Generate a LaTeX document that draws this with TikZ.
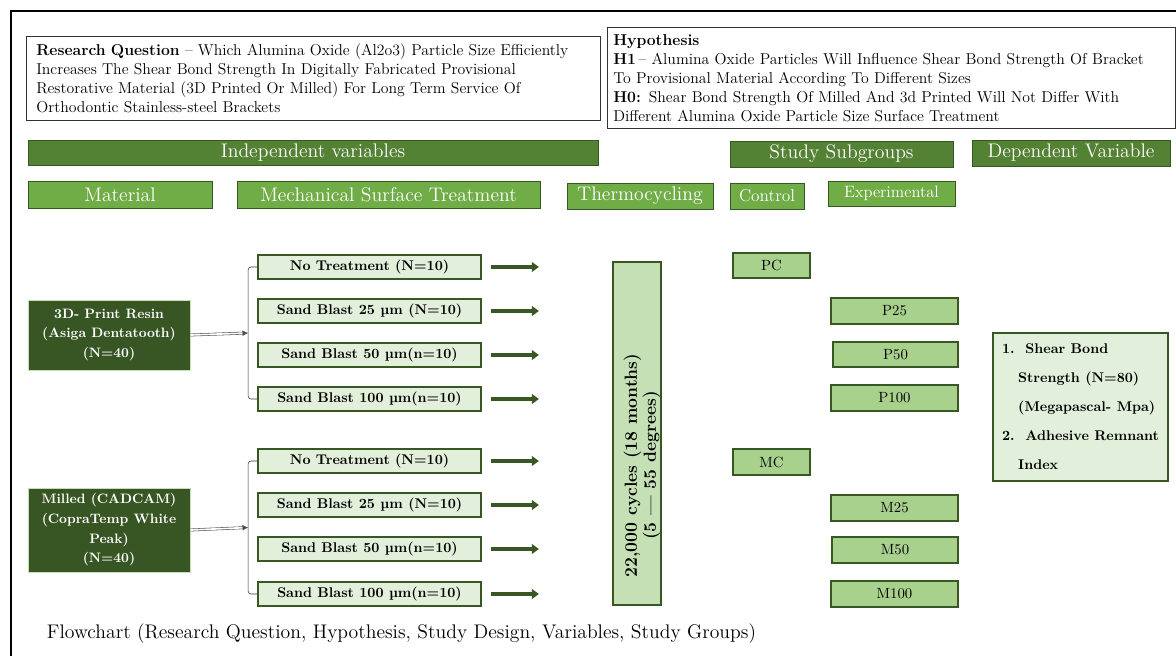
\documentclass[tikz,border=0pt]{standalone}
\usetikzlibrary{arrows.meta,calc}

\definecolor{darkbar}{HTML}{548235}
\definecolor{darkbox}{HTML}{375623}
\definecolor{midgreen}{HTML}{70AD47}
\definecolor{palegreen}{HTML}{E2EFDA}
\definecolor{lightgreen}{HTML}{C5E0B4}
\definecolor{subgreen}{HTML}{A9D18E}
\definecolor{edgegreen}{HTML}{385723}

\begin{document}
\begin{tikzpicture}[x=0.025cm,y=-0.025cm,
  sz/.style 2 args={minimum width=#1*0.025cm,minimum height=#2*0.025cm,inner sep=0pt},
  txtbox/.style={draw=black!80,thin,align=left,anchor=north west,font=\fontsize{11.2}{13.5}\selectfont},
  bar/.style={fill=darkbar,draw=edgegreen,text=white,font=\fontsize{14}{16}\selectfont},
  subbar/.style={fill=midgreen,draw=edgegreen,text=white,font=\fontsize{14}{16}\selectfont},
  matbox/.style={fill=darkbox,draw=lightgreen,text=white,align=center,font=\bfseries\fontsize{9.7}{14}\selectfont},
  treat/.style={fill=palegreen,draw=edgegreen,line width=1.2pt,font=\bfseries\fontsize{10}{12}\selectfont},
  grp/.style={fill=subgreen,draw=edgegreen,line width=1.2pt,font=\fontsize{10.5}{12}\selectfont},
  flow/.style={edgegreen,line width=2.2pt,-{Triangle[length=5pt,width=7pt]}},
  split/.style={black!80,thin,rounded corners=2pt}]

\useasboundingbox (0,0) rectangle (1176,656);

% frame
\draw[line width=1.8pt] (11,656) -- (11,11) -- (1176,11);

% research question and hypothesis
\node[txtbox,text width=13.85cm,inner xsep=0.25cm,minimum height=2.1cm] (rq) at (26,36)
  {\textbf{Research Question} -- Which Alumina Oxide (Al2o3) Particle Size Efficiently\\
   Increases The Shear Bond Strength In Digitally Fabricated Provisional\\
   Restorative Material (3D Printed Or Milled) For Long Term Service Of\\
   Orthodontic Stainless-steel Brackets};
\node[txtbox,text width=13.9cm,inner xsep=0.15cm,minimum height=2.525cm] (hyp) at (607,27)
  {\textbf{Hypothesis}\\
   \textbf{H1}\,-- Alumina Oxide Particles Will Influence Shear Bond Strength Of Bracket\\
   To Provisional Material According To Different Sizes\\
   \textbf{H0:} Shear Bond Strength Of Milled And 3d Printed Will Not Differ With\\
   Different Alumina Oxide Particle Size Surface Treatment};

% headers
\node[bar,sz={570}{25}] (indep) at (313,152.5) {Independent variables};
\node[bar,sz={223}{26}] (subg) at (841.5,154) {Study Subgroups};
\node[bar,sz={198}{26}] (depv) at (1071,153) {Dependent Variable};

\node[subbar,sz={184}{27}] (mat) at (120,194.5) {Material};
\node[subbar,sz={303}{27}] (mst) at (388.5,194.5) {Mechanical Surface Treatment};
\node[subbar,sz={146}{26}] (thc) at (640,196) {Thermocycling};
\node[subbar,sz={74}{26},font=\fontsize{12.3}{14}\selectfont] (ctrl) at (767,196) {Control};
\node[subbar,sz={127}{25},font=\fontsize{11.7}{14}\selectfont] (expt) at (891.5,193.5) {Experimental};

% materials
\node[matbox,sz={162}{70}] (print) at (109,335) {3D- Print Resin\\(Asiga Dentatooth)\\(N=40)};
\node[matbox,sz={162}{84}] (milled) at (109,530) {Milled (CADCAM)\\(CopraTemp White\\Peak)\\(N=40)};

% surface treatments
\node[treat,sz={223}{24}] (t1) at (369.5,267) {No Treatment (N=10)};
\node[treat,sz={223}{24}] (t2) at (369.5,311) {Sand Blast 25 \textmu m (N=10)};
\node[treat,sz={223}{24}] (t3) at (369.5,355) {Sand Blast 50 \textmu m(n=10)};
\node[treat,sz={223}{24}] (t4) at (369.5,399) {Sand Blast 100 \textmu m(n=10)};
\node[treat,sz={223}{24}] (t5) at (369.5,461) {No Treatment (N=10)};
\node[treat,sz={223}{24}] (t6) at (369.5,505) {Sand Blast 25 \textmu m (N=10)};
\node[treat,sz={223}{24}] (t7) at (369.5,549) {Sand Blast 50 \textmu m(n=10)};
\node[treat,sz={223}{24}] (t8) at (369.5,594) {Sand Blast 100 \textmu m(n=10)};

\draw[split] (t1.west) -- ++(-9,0) |- (t4.west);
\draw[split] (t5.west) -- ++(-9,0) |- (t8.west);
\coordinate (b1) at ($(t1.west)!0.5!(t4.west)+(-9,0)$);
\coordinate (b2) at ($(t5.west)!0.5!(t8.west)+(-9,0)$);
\draw[black!70,double,double distance=1.2pt,-{Latex[length=4pt,width=4pt]}] (print.east) -- (b1);
\draw[black!70,double,double distance=1.2pt,-{Latex[length=4pt,width=4pt]}] (milled.east) -- (b2);

\foreach \i in {1,...,8}
  \draw[flow] ([xshift=9*0.025cm]t\i.east) -- ([xshift=57*0.025cm]t\i.east);

% thermocycling
\node[fill=lightgreen,draw=edgegreen,line width=1.2pt,sz={48}{343}] (cyc) at (637,433.5) {};
\node[rotate=90,align=center,font=\bfseries\fontsize{12.5}{13.5}\selectfont] (cyctxt)
  at ([shift={(5,32)}]cyc.center) {22,000 cycles (18 months)\\(5 --- 55 degrees)};

% subgroups
\node[grp,sz={77}{25}] (pc) at (771.5,265.5) {PC};
\node[grp,sz={77}{26}] (mc) at (771.5,462) {MC};
\node[grp,sz={127}{26}] (p25) at (894.5,311) {P25};
\node[grp,sz={125}{25}] (p50) at (895.5,354.5) {P50};
\node[grp,sz={127}{26}] (p100) at (894.5,398) {P100};
\node[grp,sz={127}{26}] (m25) at (894.5,508) {M25};
\node[grp,sz={126}{26}] (m50) at (895,550) {M50};
\node[grp,sz={127}{26}] (m100) at (894.5,594) {M100};

% dependent variable
\node[fill=palegreen,draw=edgegreen,line width=1.4pt,sz={175}{148},align=left,
      font=\bfseries\fontsize{10}{20.6}\selectfont] (dep) at (1080.5,407)
  {1.\ \ Shear Bond\\
   \hspace*{1.15em}Strength (N=80)\\
   \hspace*{1.15em}(Megapascal- Mpa)\\
   2.\ \ Adhesive Remnant\\
   \hspace*{1.15em}Index};

% caption
\node[anchor=west,font=\fontsize{14}{16}\selectfont] (cap) at (42,634)
  {Flowchart (Research Question, Hypothesis, Study Design, Variables, Study Groups)};

\end{tikzpicture}
\end{document}
